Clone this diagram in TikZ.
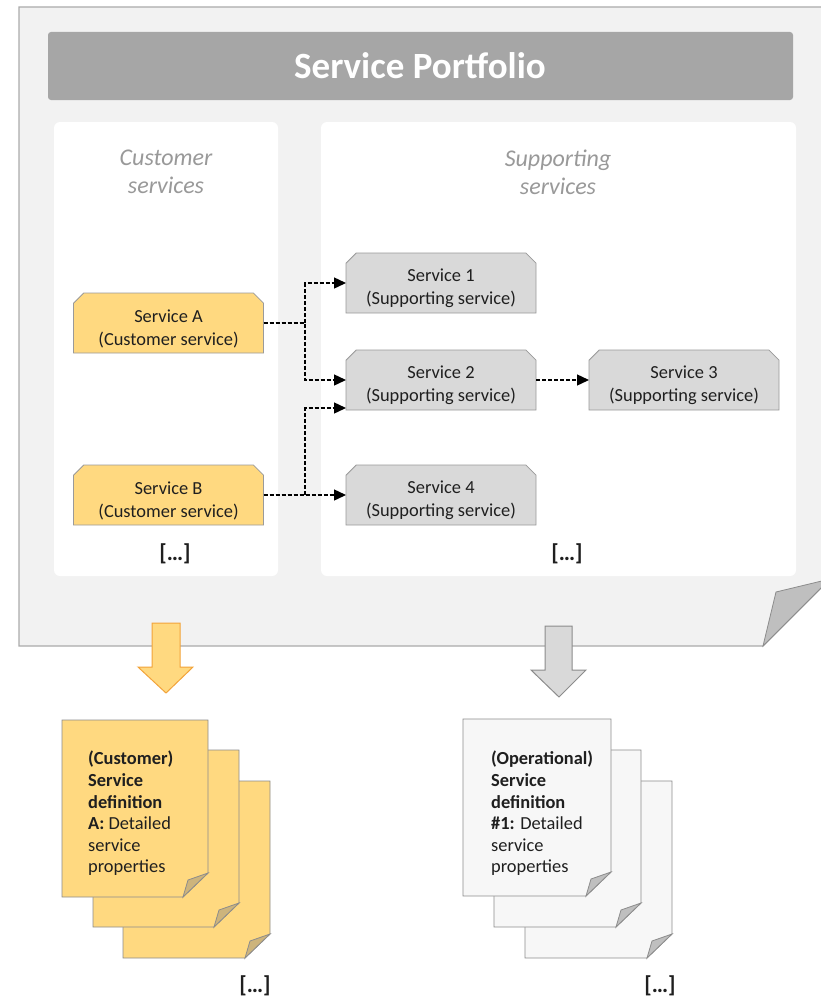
\documentclass[tikz,border=0pt]{standalone}
\usepackage{fontspec}
\setmainfont{Carlito}
\usetikzlibrary{shapes.misc,arrows.meta}

\definecolor{pagefill}{HTML}{F2F2F2}
\definecolor{pageline}{HTML}{ABABAB}
\definecolor{titlefill}{HTML}{A6A6A6}
\definecolor{headgray}{HTML}{999999}
\definecolor{custfill}{HTML}{FFD980}
\definecolor{custfold}{HTML}{CDB47C}
\definecolor{custarrow}{HTML}{F2A33A}
\definecolor{suppfill}{HTML}{D9D9D9}
\definecolor{suppline}{HTML}{9A9A9A}
\definecolor{docgray}{HTML}{F7F7F7}
\definecolor{docline}{HTML}{8C8C8C}
\definecolor{foldgray}{HTML}{BFBFBF}
\definecolor{ink}{HTML}{1F1F1F}

% one sheet of a document stack: top-left corner, width, fill, fold fill, outline
\newcommand\docsheet[6]{%
  \filldraw[fill=#4, draw=#6, line width=0.8pt]
    (#1,#2) -- ++(#3,0) -- ++(0,153) -- ++(-25,24) -- ++(-#3+25,0) -- cycle;
  \filldraw[fill=#5, draw=#6, line width=0.8pt]
    (#1+#3-25,#2+177) -- (#1+#3-20,#2+160) -- (#1+#3,#2+153) -- cycle;
}
% taller first line so the two-line label sits a little low in its box
\newcommand\svclabel[2]{\rule{0pt}{24pt}#1\\#2}

\begin{document}
\begin{tikzpicture}[x=1pt,y=-1pt,
  svc/.style={chamfered rectangle, chamfered rectangle corners={north west,north east},
    chamfered rectangle xsep=7pt, chamfered rectangle angle=45,
    minimum width=190pt, minimum height=60pt, inner sep=0pt, outer sep=0pt,
    line width=0.8pt, draw=suppline, align=center, text=ink,
    font=\fontsize{18.4}{23}\selectfont},
  cust/.style={svc, fill=custfill},
  supp/.style={svc, fill=suppfill},
  link/.style={draw=black, line width=1.4pt, dash pattern=on 4pt off 2pt,
    -{Triangle[length=12pt,width=11pt]}},
  panel/.style={fill=white, rounded corners=6pt},
  head/.style={font=\fontsize{24}{28}\selectfont\itshape, text=headgray, align=center},
  more/.style={font=\fontsize{23}{26}\selectfont\bfseries, text=ink},
  doctext/.style={anchor=north west, inner sep=0pt, align=left, text=ink,
    font=\fontsize{18.4}{21.6}\selectfont}
]
\useasboundingbox (0,0) rectangle (821,998);

\begin{scope}
  \clip (0,0) rectangle (821,998);
  % portfolio sheet with folded corner
  \filldraw[fill=pagefill, draw=pageline, line width=1.2pt]
    (19,7) -- (830,7) -- (830,579) -- (763,646) -- (19,646) -- cycle;
  \filldraw[fill=foldgray, draw=docline, line width=0.8pt]
    (763,646) -- (776,592) -- (830,579) -- cycle;
\end{scope}

% title bar
\fill[titlefill, rounded corners=3pt] (48,32) rectangle (793,100);
\node[font=\fontsize{37}{40}\selectfont\bfseries, text=white] (title) at (420,66) {Service Portfolio};

% column panels
\fill[panel] (54,122) rectangle (278,576);
\fill[panel] (321,122) rectangle (796,576);
\node[head] (hcust) at (166,172) {Customer\\services};
\node[head] (hsupp) at (558,172) {Supporting\\services};

% services
\node[cust] (A) at (168.5,323) {\svclabel{Service A}{(Customer service)}};
\node[cust] (B) at (168.5,495) {\svclabel{Service B}{(Customer service)}};
\node[supp] (S1) at (441,283) {\svclabel{Service 1}{(Supporting service)}};
\node[supp] (S2) at (441,380) {\svclabel{Service 2}{(Supporting service)}};
\node[supp] (S3) at (684,380) {\svclabel{Service 3}{(Supporting service)}};
\node[supp] (S4) at (441,495) {\svclabel{Service 4}{(Supporting service)}};

\node[more] (moreC) at (175,554) {[…]};
\node[more] (moreS) at (567,554) {[…]};

% dependencies
\coordinate (jA) at (305,323);
\coordinate (jB) at (305,495);
\draw[link] (A.east) -- (jA) |- (S1.west);
\draw[link] (A.east) -- (jA) |- (S2.west);
\draw[link] (B.east) -- (S4.west);
\draw[link] (B.east) -- (jB) |- ([yshift=2pt]S2.south west);
\draw[link] (S2.east) -- (S3.west);

% derivation arrows
\filldraw[fill=custfill, draw=custarrow, line width=1pt, line join=miter]
  (152,623) -- (180,623) -- (180,667) -- (193,667) -- (166,693) -- (138,667) -- (152,667) -- cycle;
\filldraw[fill=suppfill, draw=docline, line width=1pt, line join=miter]
  (545,626) -- (572,626) -- (572,670) -- (586,670) -- (559,697) -- (531,670) -- (545,670) -- cycle;

% customer service definitions
\docsheet{123}{781}{147}{custfill}{custfold}{docline}
\docsheet{93}{750}{146}{custfill}{custfold}{docline}
\docsheet{62}{720}{146}{custfill}{custfold}{docline}
\node[doctext] (dcust) at (88,751) {\textbf{(Customer)}\\\textbf{Service}\\\textbf{definition}\\\textbf{A:} Detailed\\service\\properties};

% operational service definitions
\docsheet{525}{781}{147}{docgray}{foldgray}{docline}
\docsheet{494}{750}{147}{docgray}{foldgray}{docline}
\docsheet{463}{719}{148}{docgray}{foldgray}{docline}
\node[doctext] (dop) at (491,751) {\textbf{(Operational)}\\\textbf{Service}\\\textbf{definition}\\\textbf{\#1:} Detailed\\service\\properties};

\node[more] (moreD1) at (255,986) {[…]};
\node[more] (moreD2) at (660,986) {[…]};
\end{tikzpicture}
\end{document}
